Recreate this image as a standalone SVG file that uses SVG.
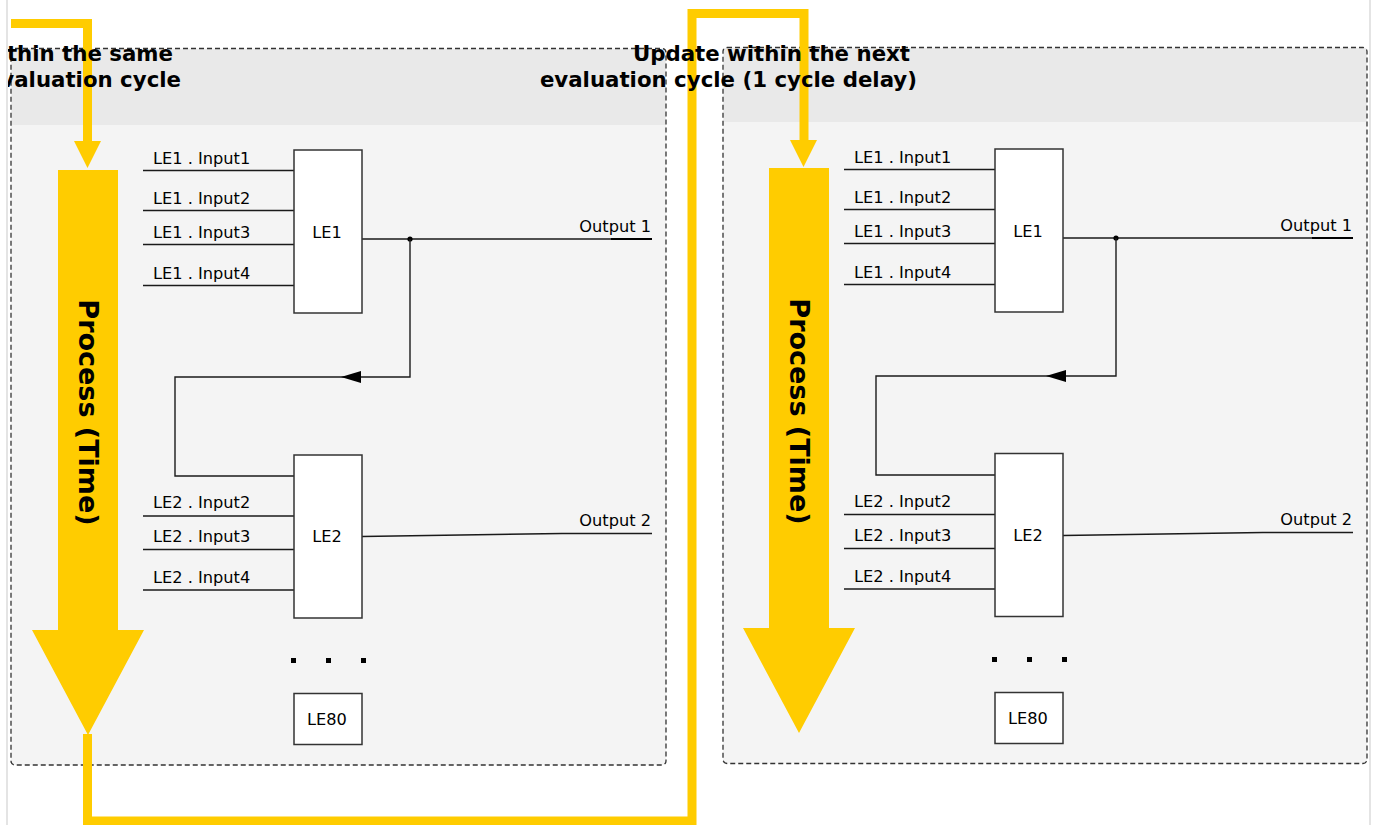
<svg xmlns="http://www.w3.org/2000/svg" width="1373" height="825" viewBox="0 0 1373 825">
<style>
.bg{fill:#ffffff}
.pbody{fill:#f4f4f4}
.phead{fill:#e9e9e9}
.pborder{fill:none;stroke:#333333;stroke-width:1.3;stroke-dasharray:5,3}
.title{font-family:"DejaVu Sans","Liberation Sans",sans-serif;font-weight:bold;font-size:21.3px;fill:#000;text-anchor:end}
.yl{fill:none;stroke:#ffcc00;stroke-width:9;stroke-linejoin:miter;stroke-linecap:butt}
.yf{fill:#ffcc00}
.proc{font-family:"DejaVu Sans","Liberation Sans",sans-serif;font-weight:bold;font-size:27px;fill:#000;text-anchor:middle}
.box{fill:#ffffff;stroke:#333333;stroke-width:1.5}
.lbl{font-family:"DejaVu Sans","Liberation Sans",sans-serif;font-size:16.2px;fill:#000}
.mid{text-anchor:middle}
.end{text-anchor:end}
.wire{fill:none;stroke:#1a1a1a;stroke-width:1.4}
.thick{fill:none;stroke:#000;stroke-width:2.2}
.dot{fill:#000}
.page{fill:none;stroke:#e4e4e4;stroke-width:2}
</style>
<defs>
<clipPath id="pageclip"><rect x="8" y="0" width="1361" height="825"/></clipPath>
</defs>
<rect class="bg" x="0" y="0" width="1373" height="825"/>
<line class="page" x1="7" y1="0" x2="7" y2="825"/>
<line class="page" x1="1370" y1="0" x2="1370" y2="825"/>

<g id="panel-left">
<rect class="pbody" x="11" y="48.5" width="655" height="716.5" rx="4"/>
<rect class="phead" x="11.6" y="49.2" width="653.8" height="75.8"/>
<rect class="pborder" x="11" y="48.5" width="655" height="716.5" rx="4"/>
</g>
<g id="panel-right">
<rect class="pbody" x="723" y="47.5" width="644" height="716" rx="4"/>
<rect class="phead" x="723.6" y="48.2" width="642.8" height="73.8"/>
<rect class="pborder" x="723" y="47.5" width="644" height="716" rx="4"/>
</g>

<g id="process-left">
<polygon class="yf" points="58,170 118,170 118,630 144,630 88,735 32,630 58,630"/>
<text class="proc" transform="translate(78.5,412.5) rotate(90)">Process (Time)</text>
</g>
<g id="process-right">
<polygon class="yf" points="769,168 829,168 829,628 855,628 799,733 743,628 769,628"/>
<text class="proc" transform="translate(789.5,411.5) rotate(90)">Process (Time)</text>
</g>

<g id="connectors">
<path class="yl" d="M11 23.5 H87.5 V142"/>
<polygon class="yf" points="74,141 101,141 87.5,168"/>
<path class="yl" d="M87.5 734 V821 H692 V13.5 H804 V141"/>
<polygon class="yf" points="790,140 817,140 803.5,167"/>

<g id="wires-left">
<line class="wire" x1="143" y1="170.5" x2="294" y2="170.5"/>
<line class="wire" x1="143" y1="210.5" x2="294" y2="210.5"/>
<line class="wire" x1="143" y1="244.5" x2="294" y2="244.5"/>
<line class="wire" x1="143" y1="285.5" x2="294" y2="285.5"/>
<line class="wire" x1="143" y1="516" x2="294" y2="516"/>
<line class="wire" x1="143" y1="549.5" x2="294" y2="549.5"/>
<line class="wire" x1="143" y1="590" x2="294" y2="590"/>
<path class="wire" d="M362 239 H652"/>
<path class="thick" d="M611 239 H652"/>
<circle class="dot" cx="410" cy="239" r="2.6"/>
<path class="wire" d="M410 239 V377 H175 V476 H294"/>
<polygon class="dot" points="341,377 361,371 361,383"/>
<path class="wire" d="M362 536.5 L562 533.5 H652"/>
</g>
<g id="wires-right">
<line class="wire" x1="844" y1="169.5" x2="995" y2="169.5"/>
<line class="wire" x1="844" y1="209.5" x2="995" y2="209.5"/>
<line class="wire" x1="844" y1="243.5" x2="995" y2="243.5"/>
<line class="wire" x1="844" y1="284.5" x2="995" y2="284.5"/>
<line class="wire" x1="844" y1="514.5" x2="995" y2="514.5"/>
<line class="wire" x1="844" y1="548.5" x2="995" y2="548.5"/>
<line class="wire" x1="844" y1="589" x2="995" y2="589"/>
<path class="wire" d="M1063 238 H1353"/>
<path class="thick" d="M1312 238 H1353"/>
<circle class="dot" cx="1116" cy="238" r="2.6"/>
<path class="wire" d="M1116 238 V376 H876 V475 H995"/>
<polygon class="dot" points="1046,376 1066,370 1066,382"/>
<path class="wire" d="M1063 535.5 L1263 532.5 H1353"/>
</g>
</g>

<g id="title-left" clip-path="url(#pageclip)">
<text class="title" x="173" y="61">Update within the same</text>
<text class="title" x="181" y="87">evaluation cycle</text>
</g>
<g id="title-right">
<text class="title" x="910" y="61">Update within the next</text>
<text class="title" x="917" y="87">evaluation cycle (1 cycle delay)</text>
</g>

<g id="labels-left">
<text class="lbl" x="153" y="164">LE1 . Input1</text>
<text class="lbl" x="153" y="204.3">LE1 . Input2</text>
<text class="lbl" x="153" y="238.3">LE1 . Input3</text>
<text class="lbl" x="153" y="279.3">LE1 . Input4</text>
<text class="lbl" x="153" y="507.7">LE2 . Input2</text>
<text class="lbl" x="153" y="541.7">LE2 . Input3</text>
<text class="lbl" x="153" y="582.7">LE2 . Input4</text>
<text class="lbl end" x="651" y="232.3">Output 1</text>
<text class="lbl end" x="651" y="526">Output 2</text>
</g>
<g id="labels-right">
<text class="lbl" x="854" y="163">LE1 . Input1</text>
<text class="lbl" x="854" y="203.3">LE1 . Input2</text>
<text class="lbl" x="854" y="237.3">LE1 . Input3</text>
<text class="lbl" x="854" y="278.3">LE1 . Input4</text>
<text class="lbl" x="854" y="506.7">LE2 . Input2</text>
<text class="lbl" x="854" y="540.7">LE2 . Input3</text>
<text class="lbl" x="854" y="581.7">LE2 . Input4</text>
<text class="lbl end" x="1352" y="231.3">Output 1</text>
<text class="lbl end" x="1352" y="525">Output 2</text>
</g>

<g id="le1-left">
<rect class="box" x="294" y="150" width="68" height="163"/>
<text class="lbl mid" x="327" y="238.3">LE1</text>
</g>
<g id="le2-left">
<rect class="box" x="294" y="455" width="68" height="163"/>
<text class="lbl mid" x="327" y="541.7">LE2</text>
</g>
<g id="dots-left">
<rect class="dot" x="291" y="658" width="5" height="5"/>
<rect class="dot" x="326" y="658" width="5" height="5"/>
<rect class="dot" x="361" y="658" width="5" height="5"/>
</g>
<g id="le80-left">
<rect class="box" x="294" y="693.5" width="68" height="51"/>
<text class="lbl mid" x="327" y="725">LE80</text>
</g>

<g id="le1-right">
<rect class="box" x="995" y="149" width="68" height="163"/>
<text class="lbl mid" x="1028" y="237.3">LE1</text>
</g>
<g id="le2-right">
<rect class="box" x="995" y="453.5" width="68" height="163"/>
<text class="lbl mid" x="1028" y="540.7">LE2</text>
</g>
<g id="dots-right">
<rect class="dot" x="992" y="657" width="5" height="5"/>
<rect class="dot" x="1027" y="657" width="5" height="5"/>
<rect class="dot" x="1062" y="657" width="5" height="5"/>
</g>
<g id="le80-right">
<rect class="box" x="995" y="692.5" width="68" height="51"/>
<text class="lbl mid" x="1028" y="724">LE80</text>
</g>
</svg>
